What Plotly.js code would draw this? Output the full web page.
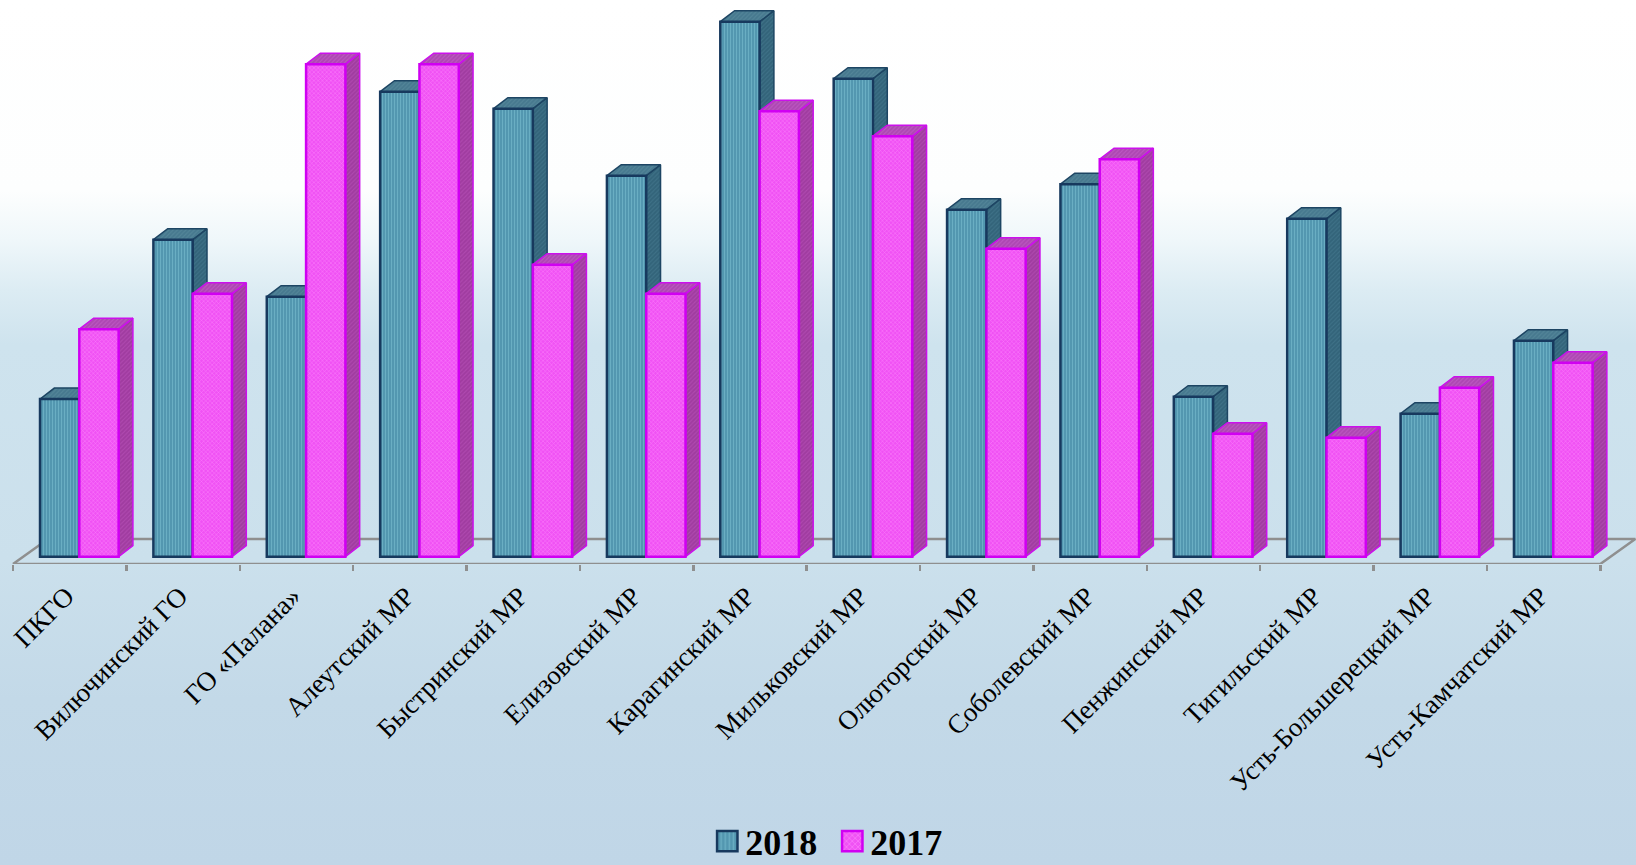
<!DOCTYPE html>
<html>
<head>
<meta charset="utf-8">
<script src="https://cdn.plot.ly/plotly-3.0.1.min.js"></script>
<style>
html,body{margin:0;padding:0;width:1636px;height:865px;overflow:hidden;
background:linear-gradient(to bottom,#ffffff 0px,#fdfefe 190px,#eff7fa 240px,#dcecf3 290px,#cee3ee 345px,#cbe0ec 560px,#c3d9e8 700px,#c0d6e7 865px);}
#chart{width:1636px;height:865px;}
</style>
</head>
<body>
<div id="chart"></div>
<script>
const categories = ["ПКГО","Вилючинский ГО","ГО «Палана»","Алеутский МР","Быстринский МР","Елизовский МР","Карагинский МР","Мильковский МР","Олюторский МР","Соболевский МР","Пенжинский МР","Тигильский МР","Усть-Большерецкий МР","Усть-Камчатский МР"];
const values2018 = [157.6,317,260,465,448,381,535,478,347,372.5,160,338,143,216];
const values2017 = [227.5,263,492.5,492.5,292,263,445.5,420.5,308,397.5,123,119,169,194];

const idx = categories.map((_, i) => i);
const UNIT = 113.38;
const x0 = -0.5 - 13 / UNIT, x1 = x0 + 1636 / UNIT;
const barW = 39.3 / UNIT, off18 = -0.2617, off17 = off18 + barW;
const depthX = 14.3 / UNIT, depthY = 11, floorDrop = 7.3, floorDX = 35 / UNIT, floorDY = 17.7;

function faces(vals, off) {
  const top = {x: [], y: []}, side = {x: [], y: []};
  vals.forEach((h, i) => {
    const a = i + off, b = a + barW;
    top.x.push(a, b, b + depthX, a + depthX, a, null);
    top.y.push(h, h, h + depthY, h + depthY, h, null);
    side.x.push(b, b + depthX, b + depthX, b, b, null);
    side.y.push(h, h + depthY, depthY, 0, h, null);
  });
  return {top, side};
}
function poly(p, bg, fg, line, z) {
  return {type: 'scatter', mode: 'lines', x: p.x, y: p.y, fill: 'toself', fillcolor: bg,
    fillpattern: {shape: '/', size: 3, solidity: 0.35, fgcolor: fg, bgcolor: bg},
    line: {color: line, width: 1.5}, showlegend: false, hoverinfo: 'skip', zorder: z, cliponaxis: false};
}
const f18 = faces(values2018, off18), f17 = faces(values2017, off17);
const L = -0.5, R = categories.length - 0.5;

const traces = [
  {type: 'scatter', mode: 'lines', x: [L, R, R + floorDX, L + floorDX, L],
   y: [-floorDrop, -floorDrop, floorDY, floorDY, -floorDrop],
   line: {color: '#8f8f8f', width: 2.5}, showlegend: false, hoverinfo: 'skip', zorder: 0, cliponaxis: false},
  poly(f18.side, '#33647a', '#3f7288', '#1d4563', 1),
  poly(f18.top, '#47798f', '#548699', '#1d4563', 1),
  {type: 'bar', name: '2018', x: idx, y: values2018, width: barW, offset: off18, zorder: 2,
   marker: {color: '#5a9cb6', line: {color: '#17395e', width: 2.5},
     pattern: {shape: '|', size: 3, solidity: 0.35, fgcolor: '#6aaec3', bgcolor: '#5397b0'}}},
  poly(f17.side, '#a03ca0', '#b04ab0', '#cc10ec', 3),
  poly(f17.top, '#ad48b2', '#bd58c2', '#cc10ec', 3),
  {type: 'bar', name: '2017', x: idx, y: values2017, width: barW, offset: off17, zorder: 4,
   marker: {color: '#f45cf8', line: {color: '#d000f2', width: 2.5},
     pattern: {shape: 'x', size: 3, solidity: 0.3, fgcolor: '#fb80fb', bgcolor: '#f052f4'}}}
];

const layout = {
  width: 1636, height: 865,
  margin: {l: 0, r: 0, t: 0, b: 301, pad: 0},
  paper_bgcolor: 'rgba(0,0,0,0)', plot_bgcolor: 'rgba(0,0,0,0)',
  barmode: 'overlay',
  hovermode: false,
  font: {family: '"Liberation Serif", serif', color: '#000'},
  xaxis: {
    type: 'linear', range: [x0, x1], fixedrange: true, showgrid: false, zeroline: false, showline: false,
    tickmode: 'array', tickvals: idx.map(i => i - 0.03), ticktext: categories, tickangle: -45,
    ticks: '', ticklabelstandoff: 10,
    tickfont: {family: '"Liberation Serif", serif', size: 27, color: '#000'},
    minor: {tickmode: 'array', tickvals: idx.map(i => i - 0.5).concat([R]), ticks: 'outside', ticklen: 6, tickwidth: 2.5, tickcolor: '#8f8f8f', showgrid: false}
  },
  yaxis: {range: [-floorDrop, 556.7], fixedrange: true, visible: false},
  showlegend: true,
  legend: {orientation: 'h', x: 0.5075, xanchor: 'center', xref: 'paper', yref: 'container', y: 0.0275, yanchor: 'middle',
    entrywidth: 80, entrywidthmode: 'pixels', traceorder: 'normal',
    font: {family: '"Liberation Serif", serif', size: 36, color: '#000', weight: 'bold'},
    bgcolor: 'rgba(0,0,0,0)'}
};

Plotly.newPlot('chart', traces, layout, {displayModeBar: false, staticPlot: true}).then(gd => {
  gd.querySelectorAll('.legend .legendpoints path').forEach(p => {
    p.setAttribute('transform', (p.getAttribute('transform') || '') + ' translate(2,0) scale(1.7)');
    p.style.vectorEffect = 'non-scaling-stroke';
  });
});
</script>
</body>
</html>
